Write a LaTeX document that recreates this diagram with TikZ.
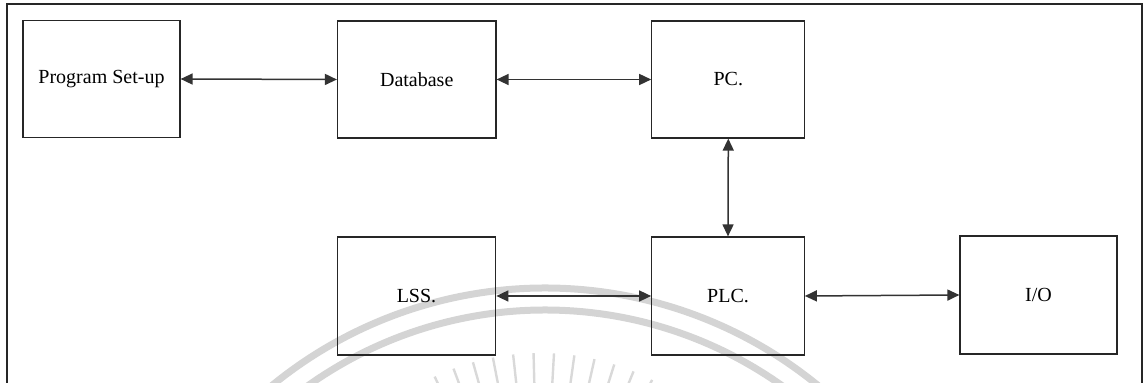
\documentclass[tikz,border=0pt]{standalone}
\usepackage{fontspec}
\setmainfont{Liberation Serif}
\usetikzlibrary{arrows.meta}
\begin{document}
\begin{tikzpicture}[x=0.5pt,y=-0.5pt,
  blk/.style={draw=black!85,line width=0.6pt,rectangle,inner sep=0pt,
    minimum width=78.5pt,minimum height=58.5pt,font=\fontsize{10pt}{12pt}\selectfont},
  link/.style={draw=black!80,line width=0.75pt,{Triangle[length=6pt,width=5.5pt]}-{Triangle[length=6pt,width=5.5pt]}},
  wm/.style={draw=black!17,line width=3.5pt},
  ray/.style={draw=black!15,line width=1.2pt}]
\useasboundingbox (0,0) rectangle (1147,383);
% faint watermark
\begin{scope}
\clip (0,0) rectangle (1147,383);
\draw[wm] (545,719) ++(-141:431) arc[start angle=-141,end angle=-39,radius=431];
\draw[wm] (545,719) ++(-144:409) arc[start angle=-144,end angle=-36,radius=409];
\foreach \a in {-30,-25.25,...,28} {
  \draw[ray] (540,600) ++({-90+\a}:247) -- ++({90+\a}:45);
}
\end{scope}
% outer frame
\begin{scope}
\clip (0,0) rectangle (1147,383);
\draw[black!85,line width=1.1pt] (7,420) -- (7,4) -- (1142,4) -- (1142,420);
\end{scope}
% blocks
\node[blk] (prog) at (101.5,79) {Program Set-up};
\node[blk,minimum width=79.25pt] (db) at (416.75,79.5) {Database};
\node[blk,minimum width=76.5pt] (pc) at (728.3,79.5) {PC.};
\node[blk,minimum width=79.25pt,minimum height=59pt] (lss) at (416.5,296) {LSS.};
\node[blk,minimum width=76.25pt,minimum height=59pt] (plc) at (728,296) {PLC.};
\node[blk,minimum width=78.5pt,minimum height=59pt] (io) at (1038.5,295) {I/O};
% connectors
\draw[link] (prog.east) -- (db.west);
\draw[link] (db.east) -- (pc.west);
\draw[link] (pc.south) -- (plc.north);
\draw[link] (lss.east) -- (plc.west);
\draw[link] (plc.east) -- (io.west);
\end{tikzpicture}
\end{document}
